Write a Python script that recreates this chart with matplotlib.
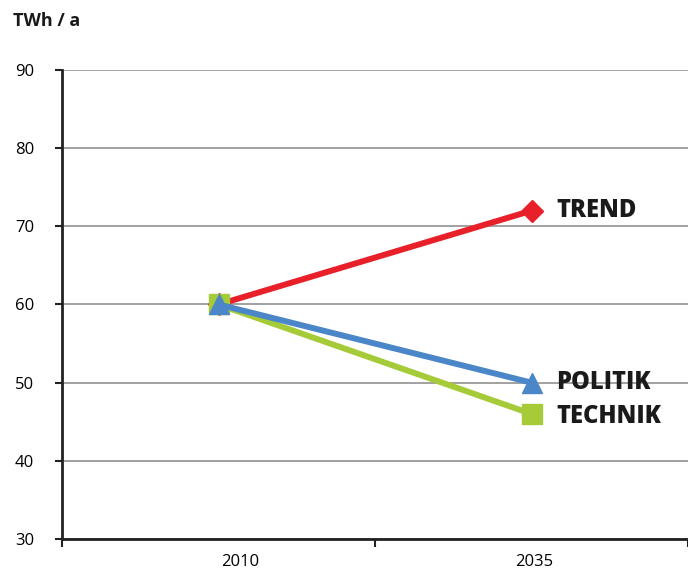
import matplotlib
matplotlib.use("Agg")
import matplotlib.pyplot as plt

years = ["2010", "2035"]
series_names = ["TREND", "TECHNIK", "POLITIK"]
trend = [60, 72]
technik = [60, 46]
politik = [60, 50]
yticks = [30, 40, 50, 60, 70, 80, 90]

plt.rcParams['font.family'] = ['Open Sans', 'DejaVu Sans']

fig = plt.figure(figsize=(6.88, 5.70), dpi=100)
ax = fig.add_axes([62/688, 31/570, 626/688, 469/570])

x = list(range(len(years)))
ax.plot(x, trend, color='#E8202A', lw=4.3, marker='D', ms=11, zorder=3,
        solid_capstyle='butt')
ax.plot(x, technik, color='#A5CB38', lw=4.3, marker='s', ms=14, zorder=4,
        solid_capstyle='butt')
ax.plot(x, politik, color='#4A86C8', lw=4.3, marker='^', ms=15, zorder=5,
        solid_capstyle='butt')

label_pos = {"TREND": trend[-1], "POLITIK": politik[-1], "TECHNIK": technik[-1] - 0.3}
for name, yv in label_pos.items():
    ax.text(1.08, yv, name, fontsize=17, fontweight='heavy', color='#1a1a1a',
            va='center', ha='left')

ax.set_xlim(-0.5, 1.5)
ax.set_ylim(30, 90)
ax.set_yticks(yticks)
ax.set_yticklabels([str(v) for v in yticks], fontsize=12)
ax.grid(axis='y', color='#9a9a9a', lw=1.3, zorder=0)
ax.set_axisbelow(True)

ax.set_xticks([-0.5, 0.5, 1.5])
ax.set_xticklabels([])
year_label_x = [0.07, 1.01]
for xi, lab in zip(year_label_x, years):
    ax.text(xi, -0.048, lab, transform=ax.get_xaxis_transform(), ha='center',
            va='center', fontsize=12)

ax.tick_params(axis='y', length=5, width=1.5, pad=15, color='#222222')
ax.tick_params(axis='x', length=6, width=1.5, direction='out', color='#222222')
for s in ['top', 'right']:
    ax.spines[s].set_visible(False)
for s in ['left', 'bottom']:
    ax.spines[s].set_linewidth(2)
    ax.spines[s].set_color('#222222')

fig.text(13/688, 1 - 21/570, "TWh / a", fontsize=13, fontweight='bold',
         va='center', ha='left', color='#1a1a1a')

fig.savefig("out.png", dpi=100)
